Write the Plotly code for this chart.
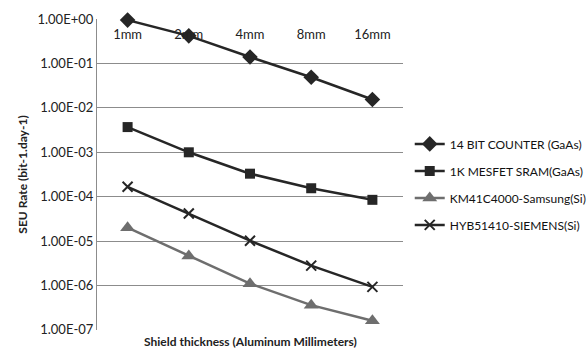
import plotly.graph_objects as go

categories = ["1mm", "2mm", "4mm", "8mm", "16mm"]
counter_14bit = [0.95, 0.42, 0.14, 0.049, 0.0155]
mesfet_sram = [0.0037, 0.001, 0.00033, 0.000155, 0.000085]
km41c4000 = [2.0e-5, 4.6e-6, 1.1e-6, 3.6e-7, 1.6e-7]
hyb51410 = [1.67e-4, 4.2e-5, 1.02e-5, 2.8e-6, 9.3e-7]
y_tickvals = [1e0, 1e-1, 1e-2, 1e-3, 1e-4, 1e-5, 1e-6, 1e-7]
y_ticktext = ["1.00E+00", "1.00E-01", "1.00E-02", "1.00E-03",
              "1.00E-04", "1.00E-05", "1.00E-06", "1.00E-07"]

FONT = "Lato, sans-serif"
dark = "#262626"
gray = "#6e6e6e"

series = [
    ("14 BIT COUNTER (GaAs)", counter_14bit, "diamond", dark, 12),
    ("1K MESFET SRAM(GaAs)", mesfet_sram, "square", dark, 10),
    ("KM41C4000-Samsung(Si)", km41c4000, "triangle-up", gray, 13),
    ("HYB51410-SIEMENS(Si)", hyb51410, "x-thin-open", dark, 10),
]

fig = go.Figure()
for i, (name, vals, sym, col, sz) in enumerate(series):
    fig.add_trace(go.Scatter(
        x=categories, y=vals, name=name, mode="lines+markers",
        line=dict(color=col, width=2.5), cliponaxis=False,
        marker=dict(symbol=sym, size=sz, color=col,
                    line=dict(color=col, width=2 if sym.startswith("x") else 0)),
        legendgroup=str(i),
    ))

fig.update_layout(
    width=587, height=349,
    margin=dict(l=97, r=184, t=19, b=19, autoexpand=False),
    paper_bgcolor="white", plot_bgcolor="white",
    font=dict(family=FONT, size=13, color="#222"),
    showlegend=True,
    legend=dict(x=1.022, y=0.645, xanchor="left", yanchor="top",
                font=dict(size=12, color="#111"), tracegroupgap=8,
                itemwidth=30, bgcolor="rgba(0,0,0,0)"),
    xaxis=dict(type="category", range=[-0.5, 4.5], anchor="free",
               position=1, side="bottom", ticklabelstandoff=6,
               showgrid=False, ticks="", showline=False, zeroline=False,
               tickfont=dict(size=13, color="#222")),
    yaxis=dict(type="log", range=[-7.003, 0.003], tickvals=y_tickvals,
               ticktext=y_ticktext, showgrid=True, gridcolor="#8c8c8c",
               gridwidth=1.2, showline=True, linecolor="#8c8c8c",
               linewidth=1.2, ticks="", ticklen=0, zeroline=False,
               tickfont=dict(size=13, color="#222"),
               title=dict(text="<b>SEU Rate (bit-1.day-1)</b>",
                          font=dict(size=12, color="#222"), standoff=7)),
    annotations=[dict(text="<b>Shield thickness (Aluminum Millimeters)</b>",
                      xref="paper", yref="paper", x=0.5, y=0, yshift=-11,
                      xanchor="center", yanchor="middle", showarrow=False,
                      font=dict(size=12, color="#222"))],
)

fig.write_html("out.html")
